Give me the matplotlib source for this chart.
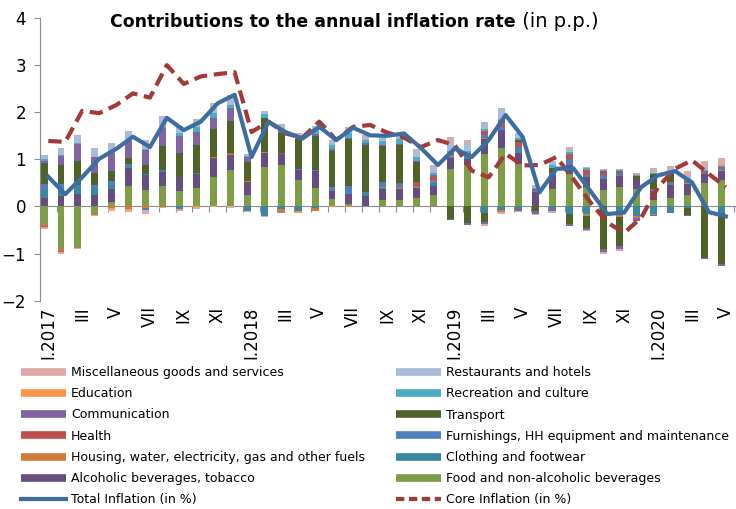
import numpy as np
import matplotlib

matplotlib.use("Agg")
import matplotlib.pyplot as plt
from matplotlib.lines import Line2D

# Month labels (every other month is labelled on the axis)
months = ["I.2017", "II", "III", "IV", "V", "VI", "VII", "VIII", "IX", "X", "XI", "XII",
          "I.2018", "II", "III", "IV", "V", "VI", "VII", "VIII", "IX", "X", "XI", "XII",
          "I.2019", "II", "III", "IV", "V", "VI", "VII", "VIII", "IX", "X", "XI", "XII",
          "I.2020", "II", "III", "IV", "V"]

total_infl = [0.63, 0.26, 0.62, 1.01, 1.22, 1.48, 1.26, 1.88, 1.62, 1.80, 2.19, 2.37,
              1.05, 1.80, 1.58, 1.44, 1.69, 1.41, 1.67, 1.51, 1.50, 1.55, 1.24, 0.88,
              1.23, 1.05, 1.41, 1.94, 1.48, 0.30, 0.80, 0.81, 0.33, -0.16, -0.13, 0.41,
              0.66, 0.75, 0.51, -0.12, -0.21]
core_infl = [1.39, 1.37, 2.03, 1.98, 2.15, 2.40, 2.31, 3.00, 2.60, 2.76, 2.81, 2.85,
             1.58, 1.80, 1.55, 1.46, 1.80, 1.41, 1.69, 1.73, 1.57, 1.46, 1.26, 1.41,
             1.30, 0.76, 0.62, 1.12, 0.87, 0.88, 1.05, 0.58, 0.09, -0.34, -0.56, -0.24,
             0.41, 0.80, 0.98, 0.69, 0.41]

food = [-0.38, -0.91, -0.86, -0.15, 0.09, 0.44, 0.35, 0.44, 0.32, 0.39, 0.62, 0.78,
        0.24, 0.84, 0.87, 0.56, 0.39, 0.16, 0.06, 0.00, 0.14, 0.14, 0.19, 0.24,
        0.80, 0.87, 1.12, 1.24, 0.90, 0.00, 0.37, 0.69, 0.41, 0.34, 0.41, 0.37,
        0.14, 0.17, 0.24, 0.50, 0.57]
alcohol = [0.19, 0.22, 0.26, 0.24, 0.28, 0.38, 0.31, 0.29, 0.30, 0.30, 0.40, 0.31,
           0.28, 0.29, 0.24, 0.21, 0.37, 0.17, 0.20, 0.23, 0.23, 0.23, 0.21, 0.20,
           0.23, 0.14, 0.32, 0.38, 0.23, 0.30, 0.29, 0.18, 0.22, 0.25, 0.24, 0.21,
           0.18, 0.28, 0.24, 0.19, 0.19]
clothing = [0.16, 0.14, 0.18, 0.13, 0.09, 0.03, 0.03, 0.02, -0.03, 0.02, 0.00, 0.00,
            -0.10, -0.20, -0.06, -0.10, -0.04, 0.00, 0.00, 0.03, 0.03, 0.00, 0.00, 0.07,
            0.03, 0.03, -0.13, -0.08, -0.05, 0.00, -0.05, -0.16, -0.16, 0.00, -0.14, -0.20,
            -0.15, -0.12, -0.04, 0.00, -0.13]
housing = [-0.03, -0.03, -0.03, -0.03, -0.03, -0.05, -0.03, -0.01, 0.01, 0.00, 0.02, 0.03,
           0.02, 0.02, -0.07, 0.00, -0.05, 0.00, 0.00, 0.00, 0.02, 0.02, 0.02, 0.03,
           0.02, 0.02, 0.02, -0.03, 0.00, 0.00, 0.00, 0.00, -0.04, 0.00, -0.09, -0.05,
           -0.03, 0.00, 0.02, 0.00, 0.02]
furnishings = [0.13, 0.12, 0.02, 0.09, 0.07, 0.05, -0.05, 0.02, -0.02, 0.00, 0.00, 0.00,
               0.00, 0.00, 0.00, 0.03, 0.02, 0.09, 0.18, 0.05, 0.10, 0.08, 0.02, 0.03,
               0.02, 0.02, 0.05, 0.07, 0.13, 0.03, 0.03, 0.14, 0.03, 0.07, 0.05, 0.00,
               0.04, 0.04, 0.02, 0.03, 0.03]
health = [-0.02, -0.02, 0.00, 0.00, 0.00, 0.00, 0.00, 0.00, 0.00, 0.00, 0.00, 0.02,
          0.00, 0.00, 0.02, 0.00, 0.00, 0.00, 0.00, 0.00, 0.00, 0.03, 0.08, 0.05,
          0.03, 0.06, 0.10, 0.10, 0.10, 0.04, 0.02, 0.10, 0.12, 0.10, 0.05, 0.00,
          0.02, 0.02, 0.02, 0.03, 0.02]
transport = [0.45, 0.39, 0.51, 0.25, 0.23, 0.12, 0.19, 0.52, 0.51, 0.60, 0.60, 0.67,
             0.40, 0.73, 0.43, 0.63, 0.71, 0.76, 1.00, 1.00, 0.76, 0.80, 0.43, 0.00,
             -0.26, -0.36, -0.21, 0.02, 0.05, -0.10, 0.10, -0.22, -0.26, -0.91, -0.61, 0.06,
             0.30, 0.20, -0.14, -1.09, -1.10]
communication = [0.04, 0.20, 0.36, 0.34, 0.38, 0.36, 0.31, 0.37, 0.36, 0.28, 0.24, 0.29,
                 0.10, 0.00, 0.06, 0.03, 0.05, 0.05, 0.02, 0.03, 0.03, 0.03, 0.02, 0.05,
                 -0.03, -0.03, -0.03, 0.00, -0.04, -0.06, -0.04, -0.03, -0.05, -0.06, -0.07, -0.06,
                 -0.02, -0.02, -0.02, -0.03, -0.03]
recreation = [0.03, 0.02, 0.02, 0.00, 0.00, 0.02, 0.02, 0.02, 0.06, 0.09, 0.10, 0.05,
              0.03, 0.08, 0.00, 0.00, 0.10, 0.07, 0.10, 0.07, 0.08, 0.10, 0.07, 0.05,
              0.05, 0.04, 0.04, 0.05, 0.04, 0.02, 0.07, 0.05, 0.03, 0.02, 0.02, 0.02,
              0.04, 0.04, 0.03, 0.03, 0.03]
education = [0.00, -0.01, 0.00, 0.00, -0.02, -0.02, 0.00, 0.00, -0.02, -0.02, 0.00, 0.00,
             0.00, 0.00, 0.00, -0.03, 0.00, -0.02, -0.02, 0.00, 0.00, 0.00, 0.00, 0.00,
             0.00, -0.01, 0.00, 0.00, 0.00, 0.00, 0.00, 0.00, 0.00, 0.00, 0.00, 0.02,
             0.00, 0.02, 0.00, 0.00, 0.02]
restaurants = [0.09, 0.16, 0.17, 0.19, 0.20, 0.20, 0.20, 0.24, 0.14, 0.18, 0.22, 0.22,
               0.05, 0.07, 0.10, 0.05, 0.06, 0.09, 0.10, 0.07, 0.08, 0.09, 0.14, 0.12,
               0.20, 0.16, 0.14, 0.22, 0.10, 0.06, 0.08, 0.06, 0.03, 0.02, 0.02, 0.02,
               0.04, 0.04, 0.08, 0.05, 0.03]
misc = [-0.05, -0.04, -0.02, -0.02, -0.05, -0.05, -0.07, -0.02, -0.03, -0.03, -0.02, -0.03,
        -0.02, -0.02, 0.03, 0.05, 0.00, 0.02, 0.02, 0.03, 0.03, 0.03, 0.05, 0.05,
        0.10, 0.08, -0.05, -0.05, -0.03, -0.03, -0.04, 0.04, -0.02, -0.03, -0.03, 0.02,
        0.05, 0.05, 0.10, 0.13, 0.12]

# series in stacking order (bottom first), with Excel-ish colours
series = [
    ("Food and non-alcoholic beverages", food, "#7F9C47"),
    ("Alcoholic beverages, tobacco", alcohol, "#654D80"),
    ("Clothing and footwear", clothing, "#3A88A0"),
    ("Housing, water, electricity, gas and other fuels", housing, "#D07C38"),
    ("Furnishings, HH equipment and maintenance", furnishings, "#4F7FBD"),
    ("Health", health, "#C0504D"),
    ("Transport", transport, "#4F6228"),
    ("Communication", communication, "#8064A2"),
    ("Recreation and culture", recreation, "#4BACC6"),
    ("Education", education, "#F79646"),
    ("Restaurants and hotels", restaurants, "#AABAD9"),
    ("Miscellaneous goods and services", misc, "#DFA9A8"),
]

BLUE = "#3D6DA0"
RED = "#A33A37"
GREY = "#8C8C8C"

plt.rcParams["font.family"] = "DejaVu Sans"

fig = plt.figure(figsize=(7.36, 5.09), dpi=100)
ax = fig.add_axes([40 / 736, 1 - 300.7 / 509, 1 - 40 / 736, (300.7 - 18) / 509])

x = np.arange(len(months))
pos = np.zeros(len(x))
neg = np.zeros(len(x))
handles = {}
for name, vals, col in series:
    v = np.array(vals)
    bottom = np.where(v >= 0, pos, neg)
    ax.bar(x - 0.25, v, width=0.41, bottom=bottom, color=col, edgecolor="none", zorder=2)
    pos += np.where(v >= 0, v, 0)
    neg += np.where(v < 0, v, 0)
    handles[name] = Line2D([], [], color=col, lw=5.5, solid_capstyle="butt")

ax.plot(x, total_infl, color=BLUE, lw=3, zorder=4, solid_joinstyle="round")
ax.plot(x, core_infl, color=RED, lw=3, dashes=(3.2, 1.6), zorder=3)

ax.set_ylim(-2, 4)
ax.set_xlim(-0.49, 40.6)
ax.set_yticks(range(-2, 5))
ax.tick_params(axis="y", labelsize=12, length=4, color=GREY, pad=6)
ax.spines["left"].set_color(GREY)
for s in ("top", "right", "bottom"):
    ax.spines[s].set_visible(False)

ax.set_xticks(x[::2])
ax.set_xticklabels(months[::2], rotation=90, fontsize=12)
ax.tick_params(axis="x", length=0, pad=4)

# zero line with month-boundary ticks
zero = ax.secondary_xaxis(2 / 6)
zero.set_xticks(np.arange(-0.49, 40.6, 1))
zero.tick_params(length=4, color=GREY, labelbottom=False, labeltop=False)
zero.spines["bottom"].set_color(GREY)

# title: bold part + normal part
t1 = fig.text(110 / 736, 1 - 27 / 509, "Contributions to the annual inflation rate",
              fontsize=12.5, fontweight="bold", ha="left", va="baseline")
ax.annotate(" (in p.p.)", xy=(1, 0), xycoords=t1, va="bottom", ha="left", fontsize=14)

# legend in two columns
left_names = ["Miscellaneous goods and services", "Education", "Communication", "Health",
              "Housing, water, electricity, gas and other fuels", "Alcoholic beverages, tobacco"]
right_names = ["Restaurants and hotels", "Recreation and culture", "Transport",
               "Furnishings, HH equipment and maintenance", "Clothing and footwear",
               "Food and non-alcoholic beverages"]
total_h = Line2D([], [], color=BLUE, lw=3)
core_h = Line2D([], [], color=RED, lw=3, dashes=(2.0, 1.1))

leg_kw = dict(frameon=False, fontsize=9, handlelength=3.6, handletextpad=0.4,
              labelspacing=0.66, borderaxespad=0, borderpad=0, loc="upper left")
fig.legend([handles[n] for n in left_names] + [total_h],
           left_names + ["Total Inflation (in %)"],
           bbox_to_anchor=(21 / 736, 1 - 366 / 509), **leg_kw)
fig.legend([handles[n] for n in right_names] + [core_h],
           right_names + ["Core Inflation (in %)"],
           bbox_to_anchor=(396 / 736, 1 - 366 / 509), **leg_kw)

fig.savefig("out.png", dpi=100, facecolor="white")
